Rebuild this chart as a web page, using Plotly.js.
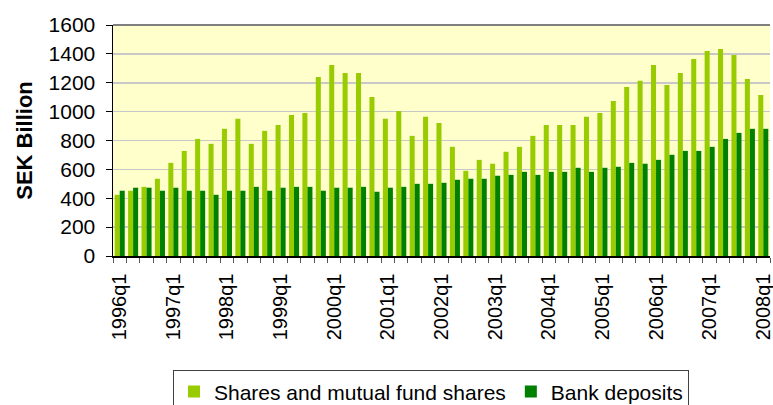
<!DOCTYPE html>
<html>
<head>
<meta charset="utf-8">
<script src="https://cdn.plot.ly/plotly-3.0.1.min.js"></script>
<style>html,body{margin:0;padding:0;background:#fff;}#chart{width:773px;height:405px;}</style>
</head>
<body>
<div id="chart"></div>
<script>
const quarters = [
  "1996q1","1996q2","1996q3","1996q4",
  "1997q1","1997q2","1997q3","1997q4",
  "1998q1","1998q2","1998q3","1998q4",
  "1999q1","1999q2","1999q3","1999q4",
  "2000q1","2000q2","2000q3","2000q4",
  "2001q1","2001q2","2001q3","2001q4",
  "2002q1","2002q2","2002q3","2002q4",
  "2003q1","2003q2","2003q3","2003q4",
  "2004q1","2004q2","2004q3","2004q4",
  "2005q1","2005q2","2005q3","2005q4",
  "2006q1","2006q2","2006q3","2006q4",
  "2007q1","2007q2","2007q3","2007q4",
  "2008q1"
];
const sharesFunds = [
  424,452,479,535,645,728,811,777,881,950,777,867,
  908,977,991,1240,1323,1268,1268,1102,950,1005,832,964,922,
  756,590,666,639,722,756,832,908,908,908,964,991,1074,
  1171,1213,1323,1185,1268,1365,1420,1434,1392,1226,1116
];
const bankDeposits = [
  452,473,473,452,473,452,452,424,452,452,479,452,
  473,479,479,452,473,473,479,445,473,479,500,500,507,
  528,535,535,556,562,583,562,583,583,611,583,611,618,
  645,639,666,701,728,728,756,811,853,881,881
];
const seriesNames = ["Shares and mutual fund shares", "Bank deposits"];
const yTicks = [0,200,400,600,800,1000,1200,1400,1600];

const FONT = "Liberation Sans, Arial, sans-serif";

const traces = [
  {type:"bar", name:seriesNames[0], x:quarters, y:sharesFunds, marker:{color:"#99CC00"}},
  {type:"bar", name:seriesNames[1], x:quarters, y:bankDeposits, marker:{color:"#008000"}}
];

const layout = {
  width:773, height:405,
  margin:{l:113, r:3, t:25, b:149, pad:0, autoexpand:false},
  paper_bgcolor:"#ffffff",
  plot_bgcolor:"#FFFFCC",
  font:{family:FONT, color:"#000", size:20},
  barmode:"group", bargap:0.25, bargroupgap:0,
  showlegend:true,
  legend:{orientation:"h", x:0.484, xanchor:"center", y:-0.495, yanchor:"top",
          font:{family:FONT, size:21, color:"#000"},
          bgcolor:"#fff", bordercolor:"#404040", borderwidth:1,
          itemwidth:30, tracegroupgap:0},
  xaxis:{type:"category", tickmode:"linear", dtick:1, tick0:0, ticklabelstep:4,
         tickson:"boundaries", ticks:"outside", ticklen:5, tickcolor:"#555", tickwidth:1,
         tickangle:-90, tickfont:{family:FONT, size:20, color:"#000"}, ticklabelstandoff:8,
         showline:true, linecolor:"#000", linewidth:1.5, showgrid:false, zeroline:false,
         automargin:false, fixedrange:true},
  yaxis:{range:[0,1600], tickvals:yTicks, ticks:"outside", ticklen:6, tickcolor:"#000",
         tickfont:{family:FONT, size:21, color:"#000"}, ticklabelstandoff:6,
         showline:true, linecolor:"#000", linewidth:1.5,
         showgrid:true, gridcolor:"#c8c8c8", gridwidth:1.5, zeroline:false,
         title:{text:"SEK Billion", font:{family:FONT, size:22, color:"#000", weight:"bold"}, standoff:10},
         automargin:false, fixedrange:true},
  shapes:[{type:"line", xref:"paper", yref:"paper", x0:0, x1:1, y0:1, y1:1,
           line:{color:"#808080", width:2}}]
};

Plotly.newPlot("chart", traces, layout, {displayModeBar:false, staticPlot:true});
</script>
</body>
</html>
